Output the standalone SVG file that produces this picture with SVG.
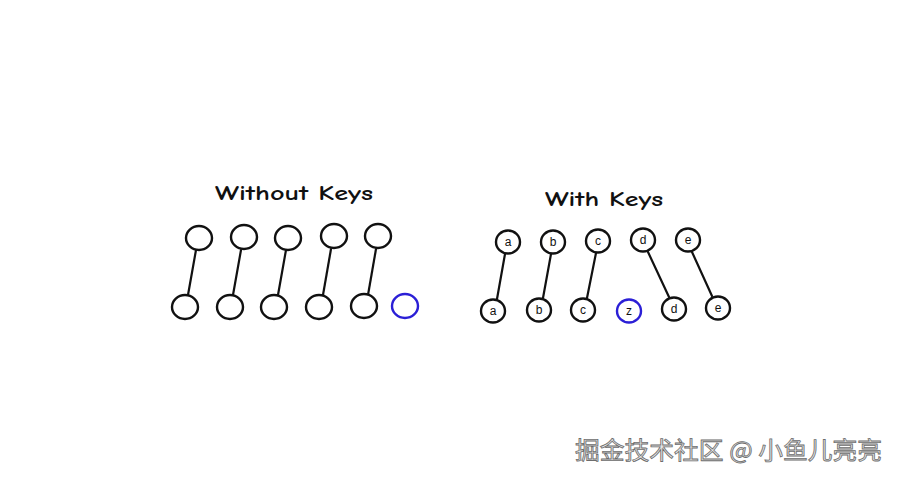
<svg xmlns="http://www.w3.org/2000/svg" width="900" height="480" viewBox="0 0 900 480">
<style>
.n{fill:#fff;stroke:#111;stroke-width:2.4}
.nb{fill:#fff;stroke:#2b1fd6;stroke-width:2.4}
.c{stroke:#111;stroke-width:2.2;fill:none;stroke-linecap:round}
.t{font-family:"Comic Neue","Liberation Sans",sans-serif;font-size:21px;fill:#111;font-weight:bold}
.l{font-family:"Liberation Sans",sans-serif;font-size:12px;fill:#111;text-anchor:middle}
.w{font-family:"Noto Sans CJK SC",sans-serif;font-size:24px;fill:#e6e6e6;stroke:#6d6d6d;stroke-width:0.8}
</style>
<rect width="900" height="480" fill="#fff"/>
<text class="t" x="215" y="200" textLength="158" lengthAdjust="spacingAndGlyphs">Without Keys</text>
<text class="t" x="545" y="206" textLength="118" lengthAdjust="spacingAndGlyphs">With Keys</text>
<g id="connectors">
<line class="c" x1="196" y1="250" x2="188" y2="295"/>
<line class="c" x1="241" y1="250" x2="233" y2="295"/>
<line class="c" x1="286" y1="250" x2="278" y2="295"/>
<line class="c" x1="331" y1="249" x2="323" y2="295"/>
<line class="c" x1="376" y1="249" x2="368" y2="295"/>
<line class="c" x1="505" y1="254" x2="497" y2="299"/>
<line class="c" x1="551" y1="254" x2="543" y2="298"/>
<line class="c" x1="596" y1="253" x2="587" y2="298"/>
<line class="c" x1="648" y1="252" x2="669" y2="297"/>
<line class="c" x1="692" y1="252" x2="712" y2="296"/>
</g>
<g id="left-top-1"><ellipse class="n" cx="199" cy="238" rx="13" ry="12"/></g>
<g id="left-top-2"><ellipse class="n" cx="244" cy="237" rx="13" ry="12"/></g>
<g id="left-top-3"><ellipse class="n" cx="288" cy="238" rx="13" ry="12"/></g>
<g id="left-top-4"><ellipse class="n" cx="334" cy="236" rx="13" ry="12"/></g>
<g id="left-top-5"><ellipse class="n" cx="378" cy="236" rx="13" ry="12"/></g>
<g id="left-bot-1"><ellipse class="n" cx="185" cy="307" rx="13" ry="12"/></g>
<g id="left-bot-2"><ellipse class="n" cx="230" cy="307" rx="13" ry="12"/></g>
<g id="left-bot-3"><ellipse class="n" cx="274" cy="307" rx="13" ry="12"/></g>
<g id="left-bot-4"><ellipse class="n" cx="319" cy="307" rx="13" ry="12"/></g>
<g id="left-bot-5"><ellipse class="n" cx="364" cy="306" rx="13" ry="12"/></g>
<g id="left-bot-new"><ellipse class="nb" cx="405" cy="306" rx="13" ry="12"/></g>
<g id="right-top-a"><ellipse class="n" cx="508" cy="242" rx="12" ry="11.5"/><text class="l" x="508" y="246">a</text></g>
<g id="right-top-b"><ellipse class="n" cx="553" cy="242" rx="12" ry="11.5"/><text class="l" x="553" y="246">b</text></g>
<g id="right-top-c"><ellipse class="n" cx="598" cy="241" rx="12" ry="11.5"/><text class="l" x="598" y="245">c</text></g>
<g id="right-top-d"><ellipse class="n" cx="643" cy="240" rx="12" ry="11.5"/><text class="l" x="643" y="244">d</text></g>
<g id="right-top-e"><ellipse class="n" cx="688" cy="240" rx="12" ry="11.5"/><text class="l" x="688" y="244">e</text></g>
<g id="right-bot-a"><ellipse class="n" cx="493" cy="311" rx="12" ry="11.5"/><text class="l" x="493" y="315">a</text></g>
<g id="right-bot-b"><ellipse class="n" cx="539" cy="310" rx="12" ry="11.5"/><text class="l" x="539" y="314">b</text></g>
<g id="right-bot-c"><ellipse class="n" cx="583" cy="310" rx="12" ry="11.5"/><text class="l" x="583" y="314">c</text></g>
<g id="right-bot-z"><ellipse class="nb" cx="629" cy="311" rx="12" ry="11.5"/><text class="l" x="629" y="315">z</text></g>
<g id="right-bot-d"><ellipse class="n" cx="674" cy="309" rx="12" ry="11.5"/><text class="l" x="674" y="313">d</text></g>
<g id="right-bot-e"><ellipse class="n" cx="718" cy="308" rx="12" ry="11.5"/><text class="l" x="718" y="312">e</text></g>
<text class="w" x="575" y="459" textLength="307" lengthAdjust="spacingAndGlyphs">掘金技术社区 @ 小鱼儿亮亮</text>
</svg>
